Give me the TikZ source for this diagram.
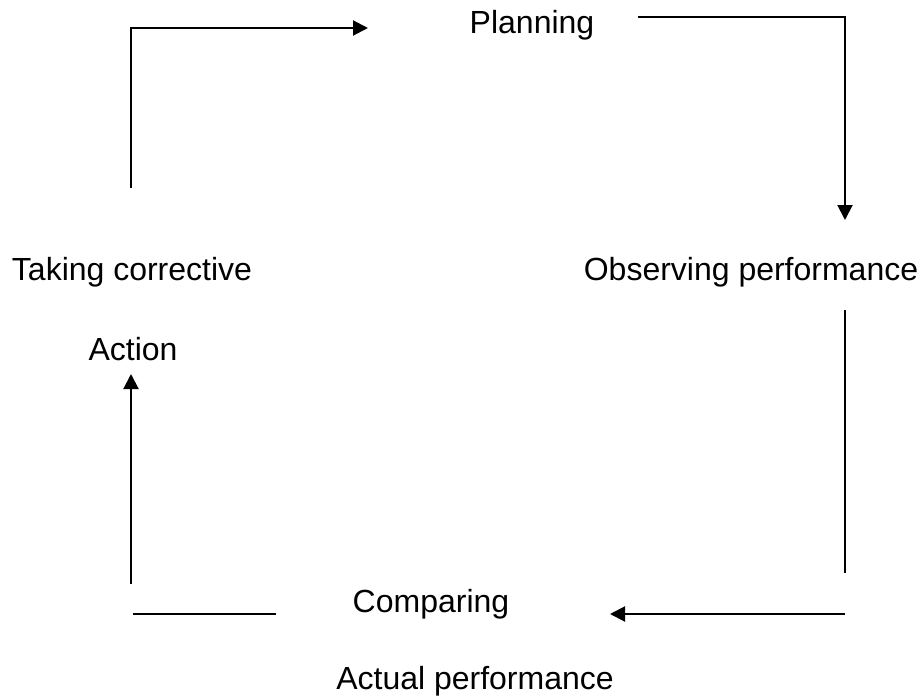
\documentclass[tikz,border=0pt]{standalone}
\usepackage{fontspec}
\setmainfont{Liberation Sans}
\usetikzlibrary{arrows.meta}
\tikzset{
  lbl/.style={anchor=base, inner sep=0pt, font=\fontsize{32}{38}\selectfont},
  conn/.style={line width=2pt, line cap=butt},
  arr/.style={conn, -{Triangle[length=15pt,width=15pt]}}
}
\begin{document}
\begin{tikzpicture}[x=1pt,y=-1pt]
\useasboundingbox (0,0) rectangle (924,696);
% texts
\node[lbl] (plan) at (532,34) {Planning};
\node[lbl] (take) at (132,280) {Taking corrective};
\node[lbl] (act) at (133,360) {Action};
\node[lbl] (obs) at (751,280) {Observing performance};
\node[lbl] (comp) at (431,612) {Comparing};
\node[lbl] (actual) at (475,689) {Actual performance};
% connector points
\coordinate (a1) at (131,188);
\coordinate (a2) at (131,28);
\coordinate (a3) at (368,28);
\coordinate (b1) at (638,17);
\coordinate (b2) at (845,17);
\coordinate (b3) at (845,220);
\coordinate (c1) at (845,310);
\coordinate (c2) at (845,573);
\coordinate (d1) at (845,614);
\coordinate (d2) at (610,614);
\coordinate (e1) at (133,614);
\coordinate (e2) at (276,614);
\coordinate (f1) at (131,584);
\coordinate (f2) at (131,374);
% connectors
\draw[arr] (a1) -- (a2) -- (a3);
\draw[arr] (b1) -- (b2) -- (b3);
\draw[conn] (c1) -- (c2);
\draw[arr] (d1) -- (d2);
\draw[conn] (e1) -- (e2);
\draw[arr] (f1) -- (f2);
\end{tikzpicture}
\end{document}
